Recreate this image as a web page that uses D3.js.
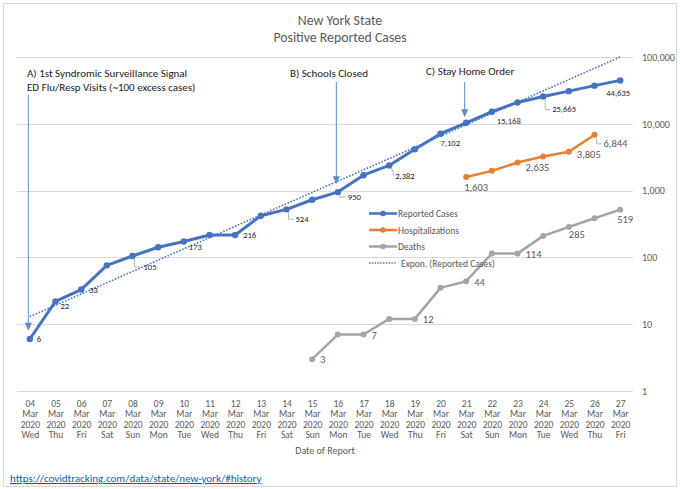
<!DOCTYPE html>
<html>
<head>
<meta charset="utf-8">
<script src="https://cdn.jsdelivr.net/npm/d3@7"></script>
<style>
  html, body { margin: 0; padding: 0; background: #fff; }
  svg { display: block; font-family: Carlito, Lato, "Open Sans", sans-serif; }
</style>
</head>
<body>
<svg id="chart" width="680" height="489"></svg>
<script>
// ---------- data ----------
const days      = ["04","05","06","07","08","09","10","11","12","13","14","15","16","17","18","19","20","21","22","23","24","25","26","27"];
const months    = days.map(() => "Mar");
const years     = days.map(() => "2020");
const weekdays  = ["Wed","Thu","Fri","Sat","Sun","Mon","Tue","Wed","Thu","Fri","Sat","Sun","Mon","Tue","Wed","Thu","Fri","Sat","Sun","Mon","Tue","Wed","Thu","Fri"];

const cases     = [6,22,33,76,105,142,173,216,216,421,524,729,950,1700,2382,4152,7102,10356,15168,20875,25665,30811,37258,44635];
const hosp      = [null,null,null,null,null,null,null,null,null,null,null,null,null,null,null,null,null,1603,1974,2635,3234,3805,6844,null];
const deaths    = [null,null,null,null,null,null,null,null,null,null,null,3,7,7,12,12,35,44,114,114,210,285,385,519];
const trendEnds = [13, 100000];   // exponential trendline value at first and last day

const caseLabelIdx  = [0,1,2,4,6,8,10,12,14,16,18,20,23];
const hospLabelIdx  = [17,19,21,22];
const deathLabelIdx = [11,13,15,17,19,21,23];

const yTicks      = [1,10,100,1000,10000,100000];
const legendNames = ["Reported Cases","Hospitalizations","Deaths","Expon. (Reported Cases)"];
const titleLines  = ["New York State","Positive Reported Cases"];

// ---------- layout / style ----------
const svg = d3.select("#chart");
const C_BLUE = "#4472c4", C_ORANGE = "#ed7d31", C_GRAY = "#a5a5a5", C_TEXT = "#595959";

const x = d3.scalePoint().domain(d3.range(days.length)).range([17, 633]).padding(0.5);
const y = d3.scaleLog().domain([1, 100000]).range([391, 57]);

// frame
svg.append("rect").attr("x", 3.5).attr("y", 3.5).attr("width", 673).attr("height", 483)
  .attr("fill", "none").attr("stroke", "#d9d9d9");

// title
svg.append("g").selectAll("text").data(titleLines).join("text")
  .attr("x", 340).attr("y", (d, i) => 25 + i * 17)
  .attr("text-anchor", "middle").attr("font-size", 13.8).attr("fill", C_TEXT).text(d => d);

// gridlines
svg.append("g").selectAll("line").data(yTicks).join("line")
  .attr("x1", 17).attr("x2", 633).attr("y1", d => Math.round(y(d)) + 0.5).attr("y2", d => Math.round(y(d)) + 0.5)
  .attr("stroke", "#d9d9d9").attr("stroke-width", 1);

// right y axis labels
const yAxis = d3.axisRight(y).tickValues(yTicks).tickFormat(d3.format(",")).tickSize(0).tickPadding(0);
const gy = svg.append("g").attr("transform", "translate(642,0)").call(yAxis);
gy.select(".domain").remove();
gy.selectAll("text").attr("font-size", 10).attr("fill", C_TEXT).attr("font-family", "Carlito, Lato, sans-serif");

// x axis labels (4 lines)
const xAxis = d3.axisBottom(x).tickSize(0).tickFormat(() => "");
const gx = svg.append("g").attr("transform", "translate(0,391)").call(xAxis);
gx.select(".domain").remove();
gx.selectAll(".tick").each(function(i) {
  const t = d3.select(this).append("text").attr("text-anchor", "middle")
    .attr("font-size", 9.5).attr("fill", C_TEXT).attr("font-family", "Carlito, Lato, sans-serif");
  [days[i], months[i], years[i], weekdays[i]].forEach((s, k) => {
    t.append("tspan").attr("x", 0).attr("y", 15.5 + k * 10.5).text(s);
  });
});
svg.append("text").attr("x", 325).attr("y", 454).attr("text-anchor", "middle")
  .attr("font-size", 10).attr("fill", C_TEXT).text("Date of Report");

// trendline
svg.append("line")
  .attr("x1", x(0)).attr("y1", y(trendEnds[0])).attr("x2", x(days.length - 1)).attr("y2", y(trendEnds[1]))
  .attr("stroke", C_BLUE).attr("stroke-width", 1.6).attr("stroke-dasharray", "1.6,1.6");

// series
function drawSeries(vals, color, width, r) {
  const line = d3.line().defined(d => d != null).x((d, i) => x(i)).y(d => y(d));
  svg.append("path").datum(vals).attr("d", line).attr("fill", "none")
    .attr("stroke", color).attr("stroke-width", width).attr("stroke-linejoin", "round");
  svg.append("g").selectAll("circle").data(vals.map((v, i) => ({v, i})).filter(d => d.v != null)).join("circle")
    .attr("cx", d => x(d.i)).attr("cy", d => y(d.v)).attr("r", r).attr("fill", color);
}
drawSeries(deaths, C_GRAY, 2.5, 3);
drawSeries(hosp, C_ORANGE, 2.5, 3);
drawSeries(cases, C_BLUE, 3, 3.2);

// data labels: [dx, dy, anchor, leader]
const caseLabelPos = {
  0:[7,3,"start",0], 1:[5,8,"start",0], 2:[8,3,"start",0], 4:[11,14,"start",1], 6:[5,9,"start",0],
  8:[8,3,"start",0], 10:[9,13,"start",1], 12:[10,8,"start",1], 14:[6,14,"start",2], 16:[0,12,"start",0],
  18:[5,12,"start",0], 20:[9,16,"start",1], 23:[-2,16,"middle",0]
};
const hospLabelPos  = { 17:[-2,14,"start",0], 19:[8,9,"start",0], 21:[8,6,"start",0], 22:[9,12,"start",1] };
const deathLabelPos = { 11:[8,4,"start",0], 13:[8,4,"start",0], 15:[8,4,"start",0], 17:[8,5,"start",0],
                        19:[8,4,"start",0], 21:[0,11,"start",0], 23:[-3,13,"start",0] };
const fmt = d3.format(",");
function drawLabels(vals, idx, pos, size, color) {
  idx.forEach(i => {
    const px = x(i), py = y(vals[i]);
    const [dx, dy, anchor, leader] = pos[i];
    if (leader === 1) {
      svg.append("path").attr("d", `M${px + 2},${py + 3}V${py + dy - 3}H${px + dx - 2}`)
        .attr("fill", "none").attr("stroke", "#a6a6a6").attr("stroke-width", 0.8);
    } else if (leader === 2) {
      svg.append("path").attr("d", `M${px + 2},${py + 2}L${px + dx - 1},${py + dy - 4}`)
        .attr("fill", "none").attr("stroke", "#a6a6a6").attr("stroke-width", 0.8);
    }
    svg.append("text").attr("x", px + dx).attr("y", py + dy).attr("text-anchor", anchor)
      .attr("font-size", size).attr("fill", color).text(fmt(vals[i]));
  });
}
drawLabels(cases, caseLabelIdx, caseLabelPos, 8.6, "#262626");
drawLabels(hosp, hospLabelIdx, hospLabelPos, 10.5, C_TEXT);
drawLabels(deaths, deathLabelIdx, deathLabelPos, 10.5, C_TEXT);

// legend
const lg = svg.append("g");
legendNames.forEach((name, k) => {
  const ly = 213.5 + k * 16.5;
  const col = [C_BLUE, C_ORANGE, C_GRAY, C_BLUE][k];
  const l = lg.append("line").attr("x1", 369).attr("x2", 397).attr("y1", ly).attr("y2", ly)
    .attr("stroke", col).attr("stroke-width", k === 3 ? 1.3 : 2.5);
  if (k === 3) l.attr("stroke-dasharray", "1.4,1.4");
  else lg.append("circle").attr("cx", 383).attr("cy", ly).attr("r", 2.8).attr("fill", col);
  lg.append("text").attr("x", k === 3 ? 401 : 398).attr("y", ly + 3.5).attr("font-size", 9.5)
    .attr("fill", C_TEXT).text(name);
});

// annotations
const annotations = [
  { i: 0,  lines: ["A) 1st Syndromic Surveillance Signal", "ED Flu/Resp Visits (~100 excess cases)"], tx: 27,  ty: 77, top: 95, tip: 8 },
  { i: 12, lines: ["B) Schools Closed"], tx: 290, ty: 77, top: 82, tip: 1250 },
  { i: 17, lines: ["C) Stay Home Order"], tx: 426, ty: 75, top: 82, tip: 12500 }
];
const ARROW = "#5b8bd0";
annotations.forEach(a => {
  const ax = x(a.i) - 1.5, tipY = y(a.tip);
  svg.append("line").attr("x1", ax).attr("x2", ax).attr("y1", a.top).attr("y2", tipY - 6)
    .attr("stroke", ARROW).attr("stroke-width", 1);
  svg.append("path").attr("d", `M${ax - 3.5},${tipY - 8}L${ax + 3.5},${tipY - 8}L${ax},${tipY}Z`).attr("fill", ARROW);
  a.lines.forEach((s, k) => {
    svg.append("text").attr("x", a.tx).attr("y", a.ty + k * 14).attr("font-size", 11)
      .attr("fill", "#1a1a1a").text(s);
  });
});

// source link
svg.append("text").attr("x", 10).attr("y", 482).attr("font-size", 11).attr("fill", "#0563c1")
  .attr("text-decoration", "underline").text("https://covidtracking.com/data/state/new-york/#history");
</script>
</body>
</html>
